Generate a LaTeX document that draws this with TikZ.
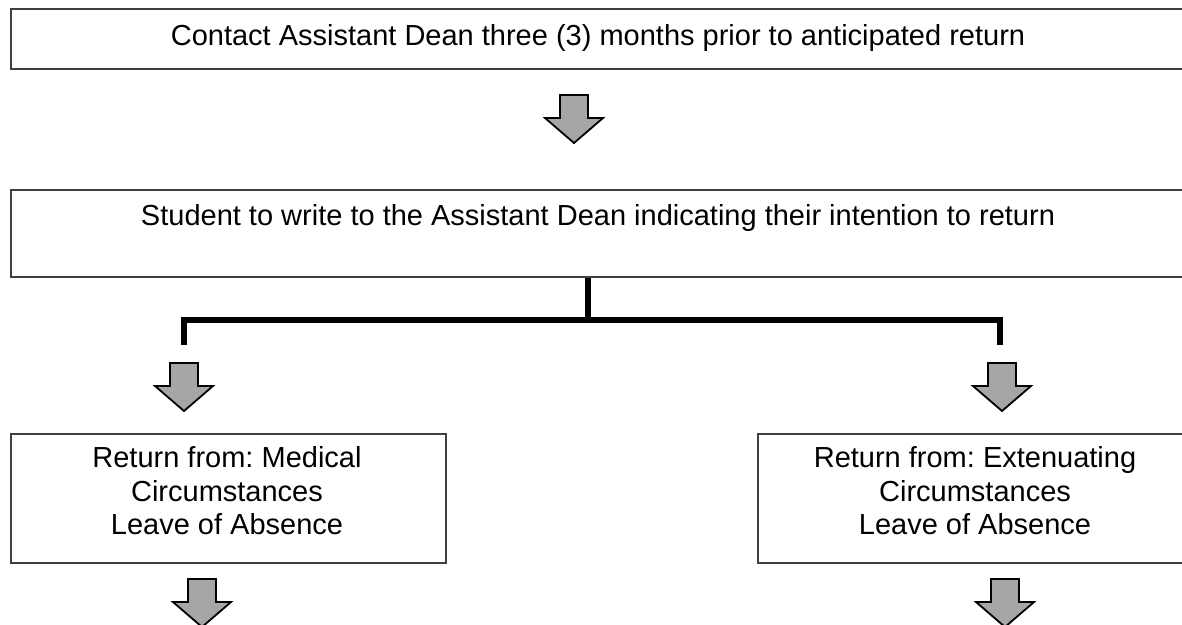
\documentclass[tikz,border=0pt]{standalone}
\usepackage{fontspec}
\setmainfont{Liberation Sans}
\frenchspacing
\begin{document}
\begin{tikzpicture}[x=1pt,y=-1pt,
  box/.style={draw=boxgray,line width=1.6pt,rectangle,inner sep=0pt},
  txt/.style={font=\fontsize{29}{33.4}\selectfont,align=center,inner sep=0pt},
  bracket/.style={line width=6pt,black},
  downarrow/.pic={\draw[fill=arrowgray,draw=black,line width=1.8pt,line join=miter]
     (-14,0) -- (14,0) -- (14,23) -- (29,23) -- (0,48) -- (-29,23) -- (-14,23) -- cycle;}]
\definecolor{boxgray}{RGB}{64,64,64}
\definecolor{arrowgray}{RGB}{166,166,166}
\useasboundingbox (0,0) rectangle (1182,624);
% boxes
\node[box,minimum width=1200pt,minimum height=60pt,anchor=north west] (b1) at (10,8) {};
\node[txt,anchor=base] (t1) at (598,45) {Contact Assistant Dean three (3) months prior to anticipated return};
\node[box,minimum width=1200pt,minimum height=87pt,anchor=north west] (b2) at (10,189) {};
\node[txt,anchor=base] (t2) at (598,225) {Student to write to the Assistant Dean indicating their intention to return};
\node[box,minimum width=435pt,minimum height=129pt,anchor=north west] (b3) at (10,433) {};
\node[txt] (t3) at (227,491) {Return from: Medical\\Circumstances\\Leave of Absence};
\node[box,minimum width=440pt,minimum height=129pt,anchor=north west] (b4) at (757,433) {};
\node[txt] (t4) at (975,491) {Return from: Extenuating\\Circumstances\\Leave of Absence};
% bracket
\coordinate (bj) at (588,320);
\coordinate (bl) at (184,320);
\coordinate (br) at (1000,320);
\coordinate (blend) at (184,345);
\coordinate (brend) at (1000,345);
\draw[bracket] (b2.south -| bj) -- (bj);
\draw[bracket,line cap=rect] (bl) -- (br);
\draw[bracket] (bl) -- (blend);
\draw[bracket] (br) -- (brend);
% arrows
\pic at (574,95) {downarrow};
\pic at (184,363) {downarrow};
\pic at (1002,363) {downarrow};
\pic at (202,579) {downarrow};
\pic at (1005,579) {downarrow};
\end{tikzpicture}
\end{document}
